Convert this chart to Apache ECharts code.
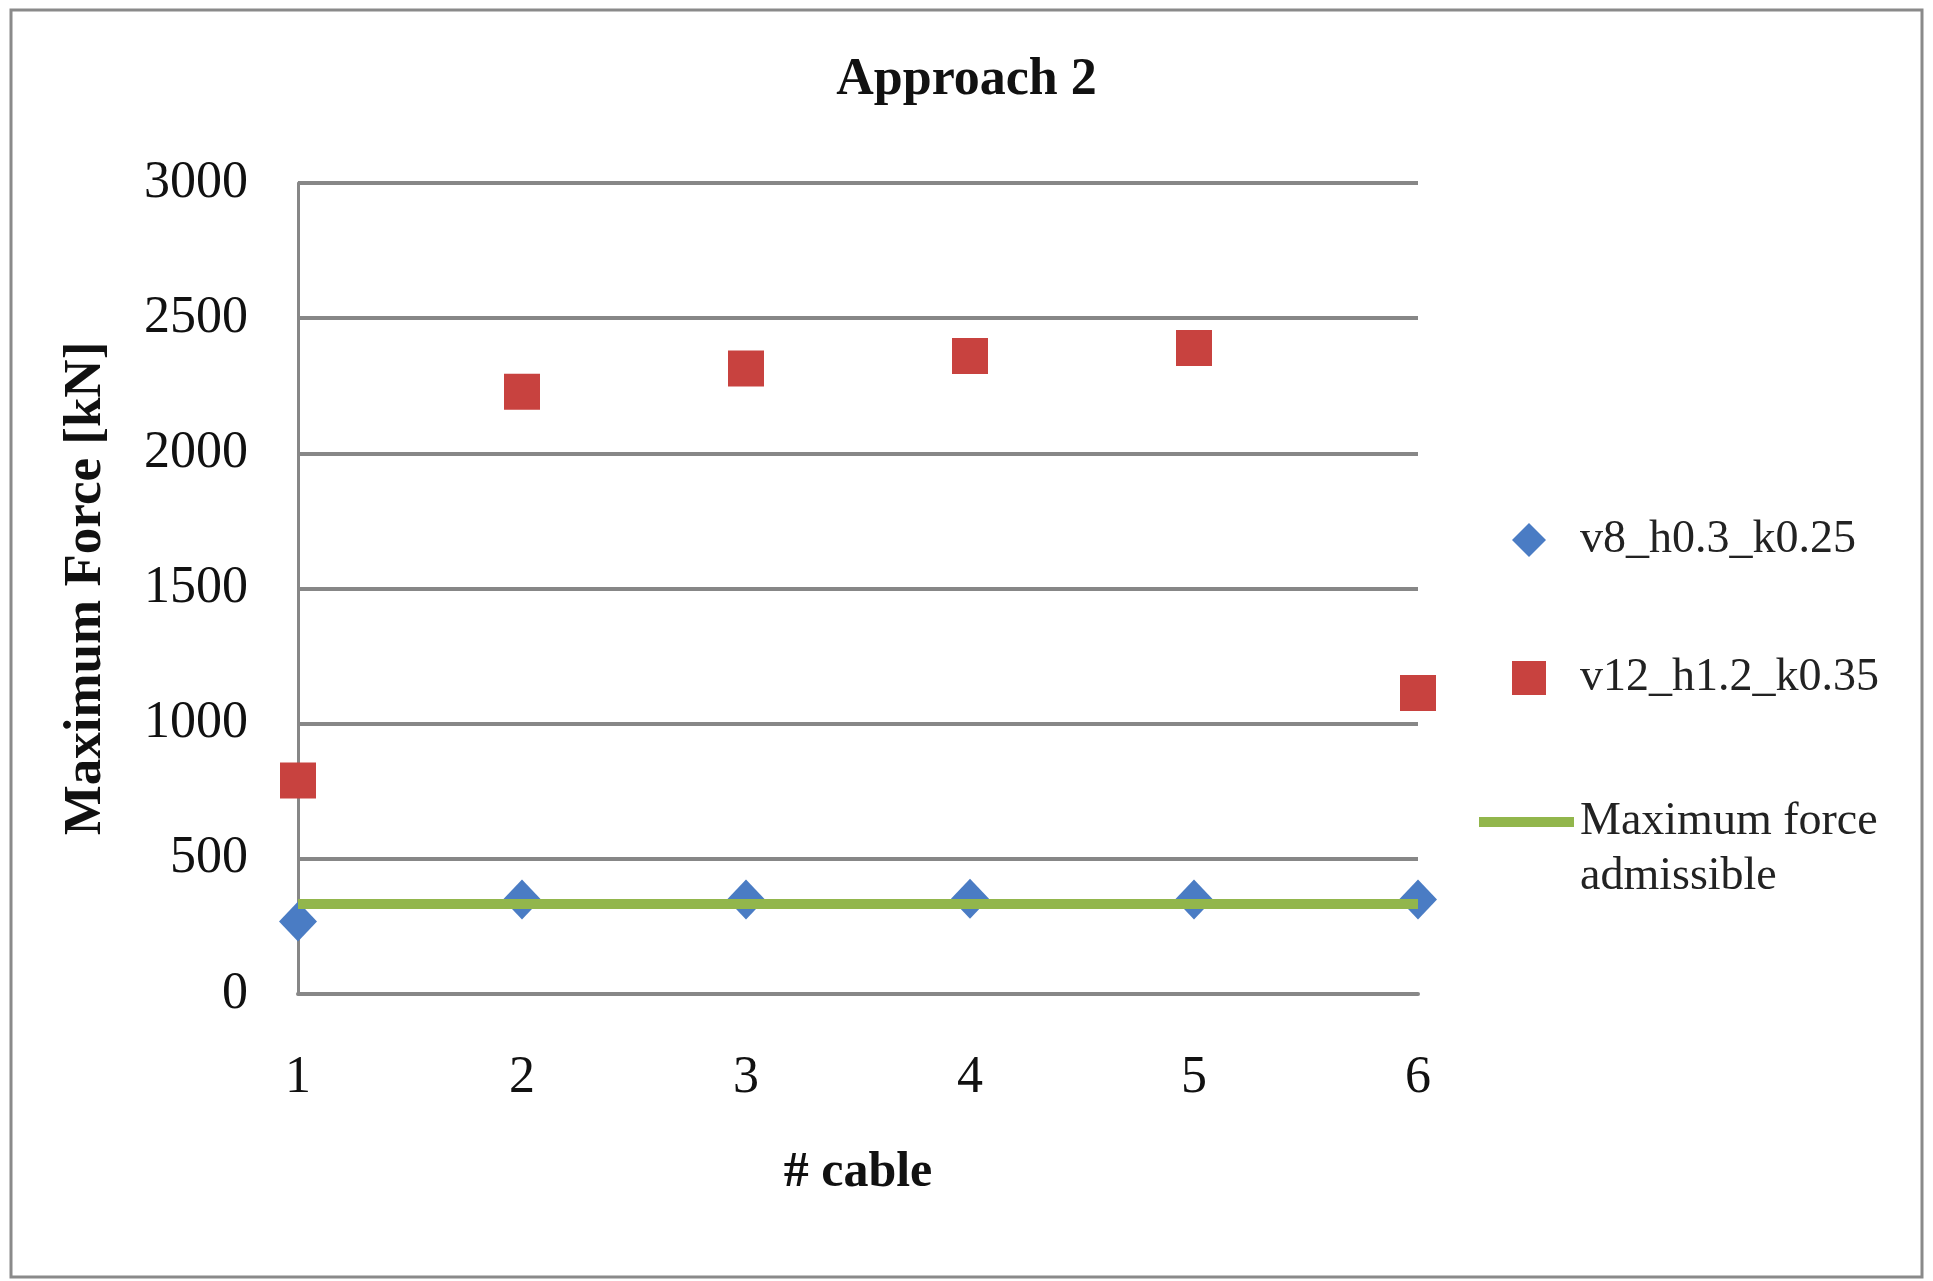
<!DOCTYPE html>
<html>
<head>
<meta charset="utf-8">
<script src="https://cdn.jsdelivr.net/npm/echarts@6/dist/echarts.min.js"></script>
<style>
html,body{margin:0;padding:0;background:#fff;}
#chart{width:1933px;height:1281px;}
</style>
</head>
<body>
<div id="chart"></div>
<script>
var cables = ['1', '2', '3', '4', '5', '6'];
var yTicks = [0, 500, 1000, 1500, 2000, 2500, 3000];
var v8_h03_k025 = [268, 350, 350, 352, 350, 350];
var v12_h12_k035 = [790, 2228, 2314, 2360, 2390, 1113];
var maxAdmissible = [333, 333, 333, 333, 333, 333];
var seriesNames = ['v8_h0.3_k0.25', 'v12_h1.2_k0.35', 'Maximum force admissible'];

var FONT = '"Liberation Serif", "Times New Roman", serif';
var GRID_COLOR = '#878787';
var LEGEND_FS = 46;

var chart = echarts.init(document.getElementById('chart'), null, {renderer: 'canvas'});
chart.setOption({
  animation: false,
  backgroundColor: '#ffffff',
  title: {
    text: 'Approach 2',
    left: 'center',
    top: 50,
    textStyle: {fontFamily: FONT, fontWeight: 'bold', fontSize: 52, color: '#111'}
  },
  graphic: [
    {
      type: 'rect',
      shape: {x: 11, y: 10, width: 1911, height: 1267},
      style: {fill: 'none', stroke: '#8a8a8a', lineWidth: 3},
      silent: true
    },
    {
      type: 'text',
      x: 1580, y: 877,
      style: {
        text: 'admissible',
        font: LEGEND_FS + 'px "Liberation Serif", "Times New Roman", serif',
        fill: '#222',
        verticalAlign: 'middle',
        align: 'left'
      },
      silent: true
    }
  ],
  grid: {left: 298, right: 515, top: 183, bottom: 287},
  xAxis: {
    type: 'category',
    data: cables,
    boundaryGap: false,
    name: '# cable',
    nameLocation: 'middle',
    nameGap: 154,
    nameTextStyle: {fontFamily: FONT, fontWeight: 'bold', fontSize: 50, color: '#111'},
    axisLine: {show: true, lineStyle: {color: GRID_COLOR, width: 4}},
    axisTick: {show: false},
    axisLabel: {fontFamily: FONT, fontSize: 52, color: '#111', margin: 58},
    splitLine: {show: false}
  },
  yAxis: {
    type: 'value',
    min: yTicks[0],
    max: yTicks[yTicks.length - 1],
    interval: 500,
    name: 'Maximum Force [kN]',
    nameLocation: 'middle',
    nameGap: 185,
    nameTextStyle: {fontFamily: FONT, fontWeight: 'bold', fontSize: 53, color: '#111'},
    axisLine: {show: true, lineStyle: {color: GRID_COLOR, width: 3}},
    axisTick: {show: false},
    axisLabel: {
      fontFamily: FONT, fontSize: 52, color: '#111', margin: 50,
      formatter: function (v) { return String(v); }
    },
    splitLine: {show: true, lineStyle: {color: GRID_COLOR, width: 4}}
  },
  legend: [
    {
      data: [seriesNames[0]],
      orient: 'vertical',
      padding: 0,
      left: 1512, top: 517,
      itemWidth: 34, itemHeight: 34,
      icon: 'diamond',
      itemStyle: {opacity: 1},
      textStyle: {fontFamily: FONT, fontSize: LEGEND_FS, color: '#222', padding: [0, 0, 0, 29]}
    },
    {
      data: [seriesNames[1]],
      orient: 'vertical',
      padding: 0,
      left: 1512, top: 655,
      itemWidth: 34, itemHeight: 34,
      icon: 'rect',
      itemStyle: {opacity: 1},
      textStyle: {fontFamily: FONT, fontSize: LEGEND_FS, color: '#222', padding: [0, 0, 0, 29]}
    },
    {
      data: [seriesNames[2]],
      orient: 'vertical',
      padding: 0,
      left: 1479, top: 799,
      itemWidth: 95, itemHeight: 10,
      icon: 'rect',
      formatter: function () { return 'Maximum force'; },
      textStyle: {fontFamily: FONT, fontSize: LEGEND_FS, color: '#222', padding: [0, 0, 0, 1]}
    }
  ],
  series: [
    {
      name: seriesNames[0],
      type: 'scatter',
      data: v8_h03_k025,
      symbol: 'diamond',
      symbolSize: [38, 40],
      itemStyle: {color: '#4a7cc4', opacity: 1},
      z: 3
    },
    {
      name: seriesNames[1],
      type: 'scatter',
      data: v12_h12_k035,
      symbol: 'rect',
      symbolSize: 36,
      itemStyle: {color: '#c8423f', opacity: 1},
      z: 3
    },
    {
      name: seriesNames[2],
      type: 'line',
      data: maxAdmissible,
      symbol: 'none',
      lineStyle: {color: '#92b64c', width: 10},
      itemStyle: {color: '#92b64c'},
      z: 4
    }
  ]
});
</script>
</body>
</html>
